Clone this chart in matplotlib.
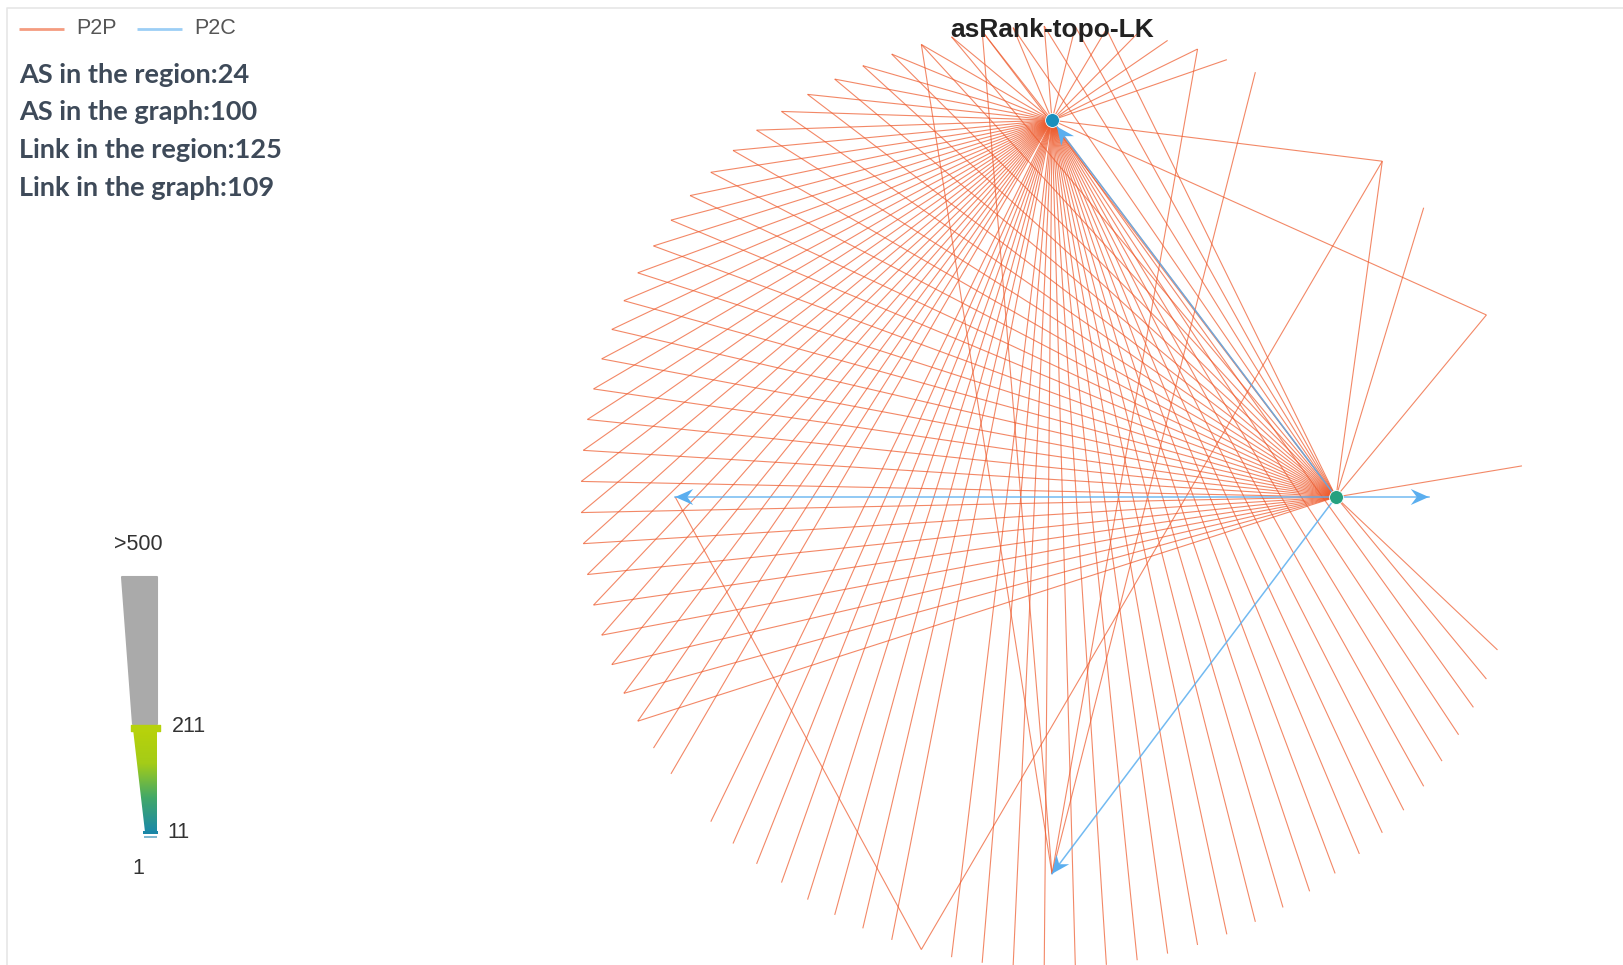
import numpy as np
import matplotlib.pyplot as plt
from matplotlib.collections import LineCollection
from matplotlib.patches import Polygon
from matplotlib.colors import LinearSegmentedColormap

W, H = 1624, 965

title = "asRank-topo-LK"
stats_labels = ["AS in the region", "AS in the graph", "Link in the region", "Link in the graph"]
stats_values = [24, 100, 125, 109]
legend_names = ["P2P", "P2C"]
scale_labels = [">500", "211", "11", "1"]

# ASes on the outer ring of the circular layout
ring_size = 95

# ring positions peering with the hub ASes (P2P)
a_peers = [6, 12, 18, 19, 20, 21, 22, 23, 24, 25, 26, 27, 28, 29, 30, 31, 32, 33,
           34, 35, 36, 37, 38, 39, 40, 41, 42, 43, 44, 45, 46, 47, 48, 49, 50, 51,
           52, 53, 54, 55, 56, 57, 59, 60, 61, 62, 63, 64, 65, 66, 68, 69, 70, 71,
           72, 73, 74, 75, 76, 77, 78, 79, 80, 81, 82, 83, 84, 85, 86, 87, 88]
b_peers = [1, 6, 10, 12, 22, 23, 24, 25, 26, 27, 28, 29, 30, 31, 32, 33, 34, 35,
           36, 37, 38, 39, 40, 41, 42, 43, 44, 45, 46, 47, 48, 49, 50, 51, 52, 53,
           54, 55, 89, 90]
c_peers = [17, 19, 26, 28]
other_p2p = [("D", 67), (67, 12), ("A", "B")]

# provider -> customer links
p2c_links = [("B", "A"), ("B", "D"), ("B", "C"), ("B", "E")]

# layout of the inner ASes: (angle in degrees, fraction of ring radius)
inner_layout = {"A": (90, 0.8), "B": (0, 0.603), "C": (270, 0.8), "D": (180, 0.8), "E": (0, 0.8)}
node_colors = {"A": "#1a8fbd", "B": "#26a07f"}

cx, cy, R = 1052, 497, 471


def pos(n):
    if isinstance(n, str):
        ang, f = inner_layout[n]
        r = R * f
    else:
        ang, r = 360.0 * n / ring_size, R
    t = np.deg2rad(ang)
    return np.array([cx + r * np.cos(t), cy - r * np.sin(t)])


plt.rcParams['font.family'] = ['Liberation Sans', 'DejaVu Sans']
fig = plt.figure(figsize=(W / 100, H / 100), dpi=100)
ax = fig.add_axes([0, 0, 1, 1])
ax.set_xlim(0, W)
ax.set_ylim(H, 0)
ax.axis('off')

# frame
ax.plot([7, 7, W], [H, 8, 8], color='#e6e6e6', lw=1.2)

red = '#ee5a2c'
blue = '#5aaeef'

segs = [(pos("A"), pos(k)) for k in a_peers]
segs += [(pos("B"), pos(k)) for k in b_peers]
segs += [(pos("C"), pos(k)) for k in c_peers]
segs += [(pos(u), pos(v)) for u, v in other_p2p]
ax.add_collection(LineCollection(segs, colors=red, linewidths=0.8, alpha=0.72, zorder=2))

# P2C links with notched arrow heads at the customer end
for src, dst in p2c_links:
    p0, p1 = pos(src), pos(dst)
    d = (p1 - p0) / np.linalg.norm(p1 - p0)
    tip = p1 - d * (8 if dst in node_colors else 0)
    ax.plot([p0[0], tip[0]], [p0[1], tip[1]], color=blue, lw=1.1, alpha=0.85, zorder=3)
    nrm = np.array([-d[1], d[0]])
    head = [tip, tip - d * 18 + nrm * 8, tip - d * 12, tip - d * 18 - nrm * 8]
    ax.add_patch(Polygon(head, closed=True, color=blue, lw=0, zorder=4))

for n, c in node_colors.items():
    p = pos(n)
    ax.plot(p[0], p[1], 'o', ms=10, color=c, mec='white', mew=0.6, zorder=5)

ax.text(cx, 30, title, ha='center', va='center', fontsize=19, fontweight='bold', color='#222222')

# legend
for i, (name, c) in enumerate(zip(legend_names, [red, blue])):
    x0 = 19 + i * 118
    ax.plot([x0, x0 + 45], [29, 29], color=c, lw=2, alpha=0.6, solid_capstyle='butt')
    ax.text(x0 + 57, 29, name, va='center', fontsize=15.5, color='#555555')

for i, (lab, val) in enumerate(zip(stats_labels, stats_values)):
    ax.text(19, 75 + i * 37.5, f"{lab}:{val}", va='center', fontsize=19.5, fontweight='bold',
            color='#3e4a59', family=['Lato', 'DejaVu Sans'])

# degree scale bar
bar_right = 157
gray_part = Polygon([(122, 577), (bar_right, 577), (bar_right, 724), (133, 724)], closed=True,
                    color='#aaaaaa', lw=1.5, joinstyle='round', zorder=3)
ax.add_patch(gray_part)
grad_clip = Polygon([(133, 729), (bar_right, 729), (bar_right, 832), (145, 832)], closed=True,
                    facecolor='none', edgecolor='none')
ax.add_patch(grad_clip)
cmap = LinearSegmentedColormap.from_list('deg', ['#1a89a8', '#42a868', '#a4cc18', '#b8d20a'])
grad = np.linspace(0, 1, 256).reshape(-1, 1)
im = ax.imshow(grad, cmap=cmap, extent=(130, 160, 832, 729), origin='lower', aspect='auto', zorder=3)
im.set_clip_path(grad_clip)
ax.add_patch(Polygon([(131, 725), (160, 725), (160, 731), (131, 731)], closed=True,
                     color='#b6d20c', lw=1, joinstyle='round', zorder=4))
ax.add_patch(Polygon([(143, 831), (158, 831), (158, 834), (143, 834)], closed=True,
                     color='#1a86a6', lw=0, zorder=4))
ax.add_patch(Polygon([(144, 836), (157, 836), (157, 838), (144, 838)], closed=True,
                     color='#7fb8d0', lw=0, zorder=4))

ax.text(138, 544, scale_labels[0], ha='center', va='center', fontsize=15.5, color='#333333')
ax.text(172, 726, scale_labels[1], ha='left', va='center', fontsize=15.5, color='#333333')
ax.text(167, 832, scale_labels[2], ha='left', va='center', fontsize=15.5, color='#333333')
ax.text(138, 868, scale_labels[3], ha='center', va='center', fontsize=15.5, color='#333333')

fig.savefig('out.png', dpi=100, facecolor='white')
